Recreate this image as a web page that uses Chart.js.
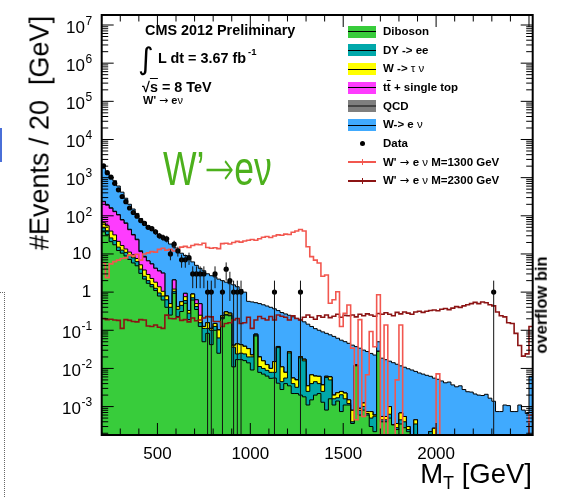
<!DOCTYPE html>
<html>
<head>
<meta charset="utf-8">
<title>W' → eν transverse mass</title>
<script src="https://cdn.jsdelivr.net/npm/chart.js@4.4.1/dist/chart.umd.min.js"></script>
<style>
  html, body { margin: 0; padding: 0; background: #fff; }
  #wrap { position: relative; width: 561px; height: 498px; overflow: hidden;
          font-family: 'Liberation Sans', Arial, Helvetica, sans-serif; color: #000; }
  #plot { position: absolute; left: 0; top: 0; }
  .txt { position: absolute; white-space: nowrap; line-height: 1; }
  .bold { font-weight: bold; }
  .gk { font-weight: normal; }
  .arr { font-weight: normal; font-family: 'DejaVu Sans', sans-serif; }
  .swatch { position: absolute; left: 348px; width: 28px; height: 12px; }
  .swatch i { position: absolute; left: 0; right: 0; top: 5.5px; height: 1px; background: #000; }
  .entry { position: absolute; left: 383px; font-weight: bold; font-size: 11.5px; line-height: 1; white-space: nowrap; }
  .sigline { position: absolute; left: 348px; width: 28px; height: 2px; }
  .sigtick { position: absolute; left: 361.5px; width: 1px; height: 6px; }
  .rot { position: absolute; white-space: nowrap; line-height: 1; transform: translate(-50%, -50%) rotate(-90deg); }
</style>
</head>
<body>
<div id="wrap">
  <canvas id="plot" width="561" height="498"></canvas>

  <!-- stray marks at the left edge of the page -->
  <div style="position:absolute;left:0;top:128px;width:2px;height:34px;background:#4a6fd8;"></div>
  <div style="position:absolute;left:0;top:292px;width:4px;height:210px;border-top:1px dotted #666;border-right:1px dotted #666;"></div>

  <!-- header text -->
  <div class="txt bold" style="left:145px;top:23px;font-size:14.4px;">CMS 2012 Preliminary</div>
  <div class="txt" style="left:138px;top:44px;font-size:30px;font-family:'DejaVu Sans';">∫</div>
  <div class="txt bold" style="left:158px;top:51px;font-size:14.4px;">L dt = 3.67 fb</div>
  <div class="txt bold" style="left:248px;top:47px;font-size:9.5px;">-1</div>
  <div class="txt bold" style="left:142px;top:80px;font-size:14.4px;">√<span style="text-decoration:overline;">s</span> = 8 TeV</div>
  <div class="txt bold" style="left:143px;top:94.5px;font-size:11px;">W' <span class="arr">→</span> e<span class="gk">ν</span></div>
  <div class="txt" style="left:163px;top:143.5px;font-size:48px;color:#4cb01c;transform:scaleX(0.74);transform-origin:0 0;">W’<span style="font-family:'DejaVu Sans';font-weight:200;">→</span>eν</div>

  <!-- axis titles -->
  <div class="rot" style="left:40px;top:133px;font-size:27px;">#Events / 20&nbsp;&nbsp;[GeV]</div>
  <div class="txt" style="right:29px;top:460px;font-size:27.5px;">M<sub style="font-size:18px;vertical-align:-6px;">T</sub> [GeV]</div>
  <div class="rot" style="left:541px;top:305px;font-size:16.5px;font-weight:bold;">overflow bin</div>

  <!-- legend -->
  <div class="swatch" style="top:25.7px;background:#38cc3b;"><i></i></div>
  <div class="entry" style="top:26.1px;">Diboson</div>
  <div class="swatch" style="top:44.4px;background:#00a8aa;"><i></i></div>
  <div class="entry" style="top:44.8px;">DY -&gt; ee</div>
  <div class="swatch" style="top:63px;background:#ffff00;"><i></i></div>
  <div class="entry" style="top:63.4px;">W -&gt; <span class="gk">τ ν</span></div>
  <div class="swatch" style="top:81.7px;background:#fe3cfe;"><i></i></div>
  <div class="entry" style="top:82.1px;">t<span style="text-decoration:overline;">t</span> + single top</div>
  <div class="swatch" style="top:100.4px;background:#7f7f7f;"><i style="background:#444;height:2px;top:5px;"></i></div>
  <div class="entry" style="top:100.8px;">QCD</div>
  <div class="swatch" style="top:119px;background:#40aafe;"><i></i></div>
  <div class="entry" style="top:119.4px;">W-&gt; e <span class="gk">ν</span></div>
  <div style="position:absolute;left:359.8px;top:141.2px;width:5px;height:5px;border-radius:50%;background:#000;"></div>
  <div class="entry" style="top:138.1px;">Data</div>
  <div class="sigline" style="top:161.4px;background:#f2574f;"></div>
  <div class="sigtick" style="top:159.4px;background:#f2574f;"></div>
  <div class="entry" style="top:156.8px;">W' <span class="arr">→</span> e <span class="gk">ν</span> M=1300 GeV</div>
  <div class="sigline" style="top:180px;background:#8c1414;"></div>
  <div class="sigtick" style="top:178px;background:#8c1414;"></div>
  <div class="entry" style="top:175.4px;">W' <span class="arr">→</span> e <span class="gk">ν</span> M=2300 GeV</div>
</div>

<script>
// Binning: 20 GeV bins from 200 GeV; the last bin (2500-2520) holds the overflow.
const BIN_START = 200;
const BIN_WIDTH = 20;
const N_BINS = 116;
const X_MAX = BIN_START + BIN_WIDTH * N_BINS;   // 2520
const Y_MIN = 1.8e-4;
const Y_MAX = 1.83e7;

const binLowEdges = Array.from({ length: N_BINS }, (_, i) => BIN_START + BIN_WIDTH * i);

// Axis tick labels
const xTickLabels = ['500', '1000', '1500', '2000', '2500'];
const yDecadeExponents = [-3, -2, -1, 0, 1, 2, 3, 4, 5, 6, 7];

// Background expectations per bin (events / 20 GeV), stacked bottom to top
const diboson = [
  38, 32, 21, 17.4, 12.3, 10.5, 8.9, 7.2, 5.8, 4.9,
  3.1, 2.2, 1.7, 1.38, 1.1, 0.79, 0.62, 0.4, 0.25, 0.93,
  0.23, 0.31, 0.51, 0.19, 0.62, 0.35, 0.126, 0.05, 0.083, 0.042,
  0.1, 0.025, 0.2, 0.25, 0.24, 0.011, 0.017, 0.017, 0.016, 0.014,
  0.0091, 0.071, 0.0079, 0.0071, 0.0063, 0.0055, 0.0056, 0.0041, 0.0028, 0.004,
  0.0035, 0.0022, 0.0022, 0.002, 0.0018, 0.0011, 0.0015, 0.002, 0.0022, 0.0013,
  0.00081, 0.0016, 0.0011, 0.0014, 0.00074, 0.0011, 0.0011, 0.00036, 0.0117, 0.0006,
  0.00081, 0.0006, 0.0003, 0.00022, 0.028, 0.0004, 0.0004, 0.0005, 0.00033, 0.00025,
  0.00035, 0.00028, 0.00022, 0, 0, 0, 0, 0, 0, 0,
  0, 0, 0, 0, 0, 0, 0, 0, 0, 0,
  0, 0, 0, 0, 0, 0, 0, 0, 0, 0,
  0, 0, 0, 0, 0, 0
];
const dyToEE = [
  10, 8, 5.3, 5.0, 2.8, 2.1, 2.1, 2.1, 2.1, 1.4,
  0.9, 0.4, 0.3, 0.2, 0.16, 0.16, 0.17, 0.23, 0.15, 0.12,
  0.125, 0.14, 0.09, 0.09, 0.09, 0.07, 0.032, 0.062, 0.029, 0.058,
  0.026, 0.038, 0.019, 0.013, 0.011, 0.025, 0.007, 0.008, 0.008, 0.006,
  0.011, 0.005, 0.0033, 0.0029, 0.0026, 0.0024, 0.0023, 0.031, 0.0017, 0.0016,
  0.022, 0.0018, 0.001, 0.017, 0.014, 0.0014, 0.0025, 0.0025, 0.0018, 0.0012,
  0.005, 0.0034, 0.0005, 0.0003, 0.0013, 0.0005, 0.0001, 0.00004, 0.0003, 0.0002,
  0.0002, 0.00006, 0.0002, 0.00034, 0, 0.00005, 0.00005, 0.00013, 0, 0.00003,
  0.0001, 0.00012, 0.00003, 0, 0.00035, 0, 0, 0, 0.00022, 0,
  0, 0, 0, 0, 0, 0, 0, 0, 0, 0,
  0, 0, 0, 0, 0, 0, 0, 0, 0, 0,
  0, 0, 0, 0, 0, 0
];
const wToTauNu = [
  18, 15, 13.5, 9.2, 6.3, 4.0, 2.5, 1.9, 1.6, 1.3,
  1.2, 1.2, 0.9, 0.7, 0.56, 0.43, 0.26, 0.16, 0.1, 0.15,
  0.06, 0.11, 0.16, 0.05, 0.18, 0.08, 0.09, 0.014, 0.046, 0.012,
  0.025, 0.039, 0.021, 0.04, 0.03, 0.0045, 0.02, 0.017, 0.014, 0.013,
  0.0024, 0.003, 0.0088, 0.0058, 0.0037, 0.0021, 0.0072, 0.0025, 0.0065, 0.0023,
  0.0019, 0.0016, 0.0018, 0.0014, 0.0016, 0.001, 0.0028, 0.0018, 0.0022, 0.0012,
  0.0004, 0.001, 0.0004, 0.0006, 0.00045, 0.00066, 0.0003, 0.0004, 0.0003, 0.0001,
  0.00023, 0.00008, 0.00024, 0.00004, 0, 0.0001, 0.0001, 0.00037, 0, 0.00008,
  0.00023, 0.00015, 0.00005, 0, 0.0001, 0, 0, 0, 0, 0.00027,
  0, 0, 0, 0, 0, 0, 0, 0, 0, 0,
  0, 0, 0, 0, 0, 0, 0, 0, 0, 0,
  0, 0, 0, 0, 0, 0
];
const ttbarSingleTop = [
  168, 135, 118, 97, 84, 61, 50, 32, 22, 16,
  6.3, 4.5, 3.7, 3.2, 2.4, 2.2, 2.1, 0, 0, 0.89,
  0, 0, 0.17, 0, 0, 0.13, 0.25, 0, 0, 0,
  0, 0, 0, 0, 0, 0, 0, 0, 0, 0,
  0, 0, 0, 0, 0, 0, 0, 0, 0, 0,
  0, 0, 0, 0, 0, 0, 0, 0, 0, 0,
  0, 0, 0, 0, 0, 0, 0, 0, 0, 0,
  0, 0, 0, 0, 0, 0, 0, 0, 0, 0,
  0, 0, 0, 0, 0, 0, 0, 0, 0, 0,
  0, 0, 0, 0, 0, 0, 0, 0, 0, 0,
  0, 0, 0, 0, 0, 0, 0, 0, 0, 0,
  0, 0, 0, 0, 0, 0
];
const qcd = [
  6, 5, 4, 3, 2.5, 2, 1.5, 1.2, 1, 0.8,
  0.6, 0.4, 0, 0, 0, 0, 0, 0, 0, 0,
  0, 0, 0, 0, 0, 0, 0, 0, 0, 0,
  0, 0, 0, 0, 0, 0, 0, 0, 0, 0,
  0, 0, 0, 0, 0, 0, 0, 0, 0, 0,
  0, 0, 0, 0, 0, 0, 0, 0, 0, 0,
  0, 0, 0, 0, 0, 0, 0, 0, 0, 0,
  0, 0, 0, 0, 0, 0, 0, 0, 0, 0,
  0, 0, 0, 0, 0, 0, 0, 0, 0, 0,
  0, 0, 0, 0, 0, 0, 0, 0, 0, 0,
  0, 0, 0, 0, 0, 0, 0, 0, 0, 0,
  0, 0, 0, 0, 0, 0
];
const wToENu = [
  1540, 1150, 885, 700, 495, 337, 224, 156, 118, 91,
  73, 60, 48, 40, 34, 28, 23, 21, 17.7, 13,
  12.2, 9.9, 8.2, 7.4, 5.3, 4.4, 3.7, 3.5, 2.86, 2.58,
  2.36, 2.09, 1.76, 1.52, 1.38, 1.51, 1.34, 1.13, 0.96, 0.54,
  0.53, 0.45, 0.48, 0.45, 0.42, 0.39, 0.35, 0.29, 0.28, 0.26,
  0.22, 0.22, 0.2, 0.166, 0.149, 0.141, 0.119, 0.104, 0.094, 0.087,
  0.077, 0.07, 0.067, 0.0595, 0.0525, 0.048, 0.044, 0.04, 0.025, 0.033,
  0.029, 0.027, 0.024, 0.0218, 0.022, 0.018, 0.0164, 0.0145, 0.0138, 0.0125,
  0.011, 0.0102, 0.0095, 0.0091, 0.0079, 0.0076, 0.0071, 0.0066, 0.006, 0.0053,
  0.0052, 0.0047, 0.0042, 0.0044, 0.0037, 0.0033, 0.0035, 0.0028, 0.00245, 0.0024,
  0.00214, 0.002, 0.00195, 0.0021, 0.00166, 0.00138, 0.00074, 0.00074, 0.0011, 0.00106,
  0.00074, 0.00074, 0.0011, 0.00081, 0.00066, 0.0062
];

// Observed events per bin
const dataCounts = [
  2040, 1350, 1030, 710, 480, 320, 235, 160, 122, 98,
  75, 63, 50, 46, 38, 30, 27, 25, 10, 18,
  12, 7, 7, 8, 3, 3, 3, 3, 1, 1,
  3, 0, 1, 4, 2, 1, 1, 1, 0, 0,
  0, 0, 0, 0, 0, 0, 1, 0, 0, 0,
  0, 0, 0, 1, 0, 0, 0, 0, 0, 0,
  0, 0, 0, 0, 0, 0, 0, 0, 0, 0,
  0, 0, 0, 0, 0, 0, 0, 0, 0, 0,
  0, 0, 0, 0, 0, 0, 0, 0, 0, 0,
  0, 0, 0, 0, 0, 0, 0, 0, 0, 0,
  0, 0, 0, 0, 0, 1, 0, 0, 0, 0,
  0, 0, 0, 0, 0, 0
];

// Signal hypotheses (not stacked)
const wPrime1300 = [
  5.8, 2.4, 5.5, 6.3, 6.9, 7.6, 7.9, 9.3, 8.9, 9.8,
  6.9, 10.0, 10.7, 11.5, 11.2, 13.2, 14.1, 12.6, 13.2, 12.0,
  13.2, 15.1, 15.8, 14.8, 16.6, 17.8, 17.4, 19.1, 14.8, 14.1,
  14.5, 13.8, 18.6, 19.1, 18.2, 20.0, 21.4, 20.4, 21.9, 22.9,
  24.0, 22.9, 25.1, 27.5, 28.8, 26.9, 29.5, 31.6, 30.9, 33.1,
  32.4, 37.2, 39.8, 43.6, 39.8, 15.5, 8.5, 6.9, 5.8, 2.6,
  2.8, 0.51, 0.63, 1.02, 0.126, 0.28, 0.46, 0.034, 0.00045, 0.19,
  0.00055, 0.0068, 0.093, 0.037, 0.85, 0, 0.138, 0, 0, 0.005,
  0.138, 0, 0, 0, 0, 0, 0, 0, 0, 0,
  0.0072, 0, 0, 0, 0, 0, 0, 0, 0, 0,
  0, 0, 0, 0, 0, 0, 0, 0, 0, 0,
  0, 0, 0, 0, 0, 0.0006
];
const wPrime2300 = [
  0.204, 0.19, 0.195, 0.186, 0.182, 0.112, 0.19, 0.182, 0.17, 0.166,
  0.19, 0.186, 0.129, 0.126, 0.138, 0.12, 0.112, 0.25, 0.204, 0.2,
  0.219, 0.182, 0.19, 0.166, 0.209, 0.178, 0.186, 0.209, 0.229, 0.224,
  0.17, 0.17, 0.126, 0.151, 0.158, 0.186, 0.204, 0.151, 0.158, 0.219,
  0.112, 0.186, 0.229, 0.204, 0.186, 0.229, 0.186, 0.251, 0.234, 0.219,
  0.186, 0.24, 0.204, 0.186, 0.219, 0.251, 0.219, 0.195, 0.24, 0.219,
  0.251, 0.214, 0.234, 0.263, 0.219, 0.245, 0.24, 0.251, 0.224, 0.263,
  0.24, 0.269, 0.251, 0.234, 0.275, 0.263, 0.288, 0.263, 0.24, 0.295,
  0.269, 0.302, 0.282, 0.263, 0.302, 0.316, 0.295, 0.316, 0.331, 0.339,
  0.324, 0.355, 0.372, 0.347, 0.38, 0.417, 0.398, 0.437, 0.468, 0.5,
  0.537, 0.5, 0.55, 0.525, 0.468, 0.437, 0.302, 0.24, 0.224, 0.158,
  0.151, 0.083, 0.04, 0.021, 0.024, 0.126
];

const layers = [
  { label: 'Diboson',          values: diboson,        color: '#38cc3b' },
  { label: 'DY -> ee',         values: dyToEE,         color: '#00a8aa' },
  { label: 'W -> τν',          values: wToTauNu,       color: '#ffff00' },
  { label: 'tt̄ + single top',  values: ttbarSingleTop, color: '#fe3cfe' },
  { label: 'QCD',              values: qcd,            color: '#7f7f7f' },
  { label: 'W -> eν',          values: wToENu,         color: '#40aafe' }
];

// Histogram outline as stepped points on the bin low edges, closed at the upper edge
function histPoints(values) {
  const pts = binLowEdges.map((e, i) => ({ x: e, y: Math.max(values[i], Y_MIN) }));
  pts.push({ x: X_MAX, y: pts[pts.length - 1].y });
  return pts;
}

// Running sums give the top of each stacked layer
let running = new Array(N_BINS).fill(0);
const stackDatasets = layers.map(layer => {
  running = running.map((r, i) => r + layer.values[i]);
  return {
    label: layer.label,
    data: histPoints(running),
    stepped: true,
    fill: 'start',
    backgroundColor: layer.color,
    borderColor: '#000',
    borderWidth: 1,
    pointRadius: 0
  };
});

const dataPoints = [];
dataCounts.forEach((n, i) => {
  if (n > 0) dataPoints.push({ x: binLowEdges[i] + BIN_WIDTH / 2, y: n });
});

// Poisson error bars on the observed counts
const dataErrorBars = {
  id: 'dataErrorBars',
  afterDatasetsDraw(chart) {
    const { ctx, chartArea: a, scales: { x, y } } = chart;
    ctx.save();
    ctx.beginPath();
    ctx.rect(a.left, a.top, a.right - a.left, a.bottom - a.top);
    ctx.clip();
    ctx.strokeStyle = '#111';
    ctx.lineWidth = 1;
    ctx.beginPath();
    dataPoints.forEach(p => {
      const err = Math.sqrt(p.y);
      const px = x.getPixelForValue(p.x);
      const top = y.getPixelForValue(p.y + err);
      const low = p.y - err;
      const bot = low > Y_MIN ? y.getPixelForValue(low) : a.bottom;
      ctx.moveTo(px, top);
      ctx.lineTo(px, bot);
    });
    ctx.stroke();
    ctx.restore();
  }
};

// Frame with inward ticks on all four sides, and power-of-ten labels on the y axis
const frameTicks = {
  id: 'frameTicks',
  afterDraw(chart) {
    const { ctx, chartArea: a, scales: { x, y } } = chart;
    ctx.save();
    ctx.strokeStyle = '#000';
    ctx.lineWidth = 1;
    ctx.beginPath();
    for (let v = BIN_START; v <= X_MAX; v += 100) {
      const px = x.getPixelForValue(v);
      const len = v % 500 === 0 ? 12 : 6.5;
      ctx.moveTo(px, a.bottom); ctx.lineTo(px, a.bottom - len);
      ctx.moveTo(px, a.top); ctx.lineTo(px, a.top + len);
    }
    for (let e = -4; e <= 7; e++) {
      for (let m = 1; m <= 9; m++) {
        const v = m * Math.pow(10, e);
        if (v < Y_MIN || v > Y_MAX) continue;
        const py = y.getPixelForValue(v);
        const len = m === 1 ? 12 : 6.5;
        ctx.moveTo(a.left, py); ctx.lineTo(a.left + len, py);
        ctx.moveTo(a.right, py); ctx.lineTo(a.right - len, py);
      }
    }
    ctx.stroke();
    ctx.lineWidth = 2;
    ctx.strokeRect(a.left, a.top, a.right - a.left, a.bottom - a.top);

    // y labels: "1", "10", otherwise 10 with a raised exponent
    const right = a.left - 9.5;
    ctx.fillStyle = '#000';
    ctx.textBaseline = 'middle';
    ctx.textAlign = 'right';
    yDecadeExponents.forEach(e => {
      const py = y.getPixelForValue(Math.pow(10, e));
      if (e === 0 || e === 1) {
        ctx.font = '17px "Liberation Sans", Arial, sans-serif';
        ctx.fillText(e === 0 ? '1' : '10', right - 1, py + 0.5);
        return;
      }
      const exp = String(e);
      ctx.font = '12px "Liberation Sans", Arial, sans-serif';
      const w = ctx.measureText(exp).width;
      ctx.fillText(exp, right, py - 3.5);
      ctx.font = '17px "Liberation Sans", Arial, sans-serif';
      ctx.fillText('10', right - w - 0.5, py + 3);
    });
    ctx.restore();
  }
};

new Chart(document.getElementById('plot'), {
  type: 'line',
  data: {
    datasets: [
      {
        label: 'Data',
        data: dataPoints,
        showLine: false,
        pointRadius: 2.6,
        pointBackgroundColor: '#000',
        pointBorderWidth: 0
      },
      {
        label: "W' → eν M=1300 GeV",
        data: histPoints(wPrime1300),
        stepped: true,
        fill: false,
        borderColor: '#f2574f',
        borderWidth: 1.6,
        pointRadius: 0
      },
      {
        label: "W' → eν M=2300 GeV",
        data: histPoints(wPrime2300),
        stepped: true,
        fill: false,
        borderColor: '#8c1414',
        borderWidth: 1.6,
        pointRadius: 0
      },
      ...stackDatasets
    ]
  },
  options: {
    responsive: false,
    animation: false,
    devicePixelRatio: 1,
    layout: { padding: { left: 0, top: 15, right: 28.3, bottom: 0 } },
    plugins: { legend: { display: false }, tooltip: { enabled: false } },
    scales: {
      x: {
        type: 'linear',
        min: BIN_START,
        max: X_MAX,
        grid: { display: false },
        border: { display: false },
        ticks: {
          stepSize: 100,
          autoSkip: false,
          maxRotation: 0,
          padding: 1,
          color: '#000',
          font: { family: 'Liberation Sans', size: 17 },
          callback: v => (xTickLabels.includes(String(v)) ? String(v) : '')
        },
        afterFit: s => { s.height = 63; }
      },
      y: {
        type: 'logarithmic',
        min: Y_MIN,
        max: Y_MAX,
        grid: { display: false },
        border: { display: false },
        ticks: { display: false },
        afterFit: s => { s.width = 101.7; }
      }
    }
  },
  plugins: [dataErrorBars, frameTicks]
});
</script>
</body>
</html>
